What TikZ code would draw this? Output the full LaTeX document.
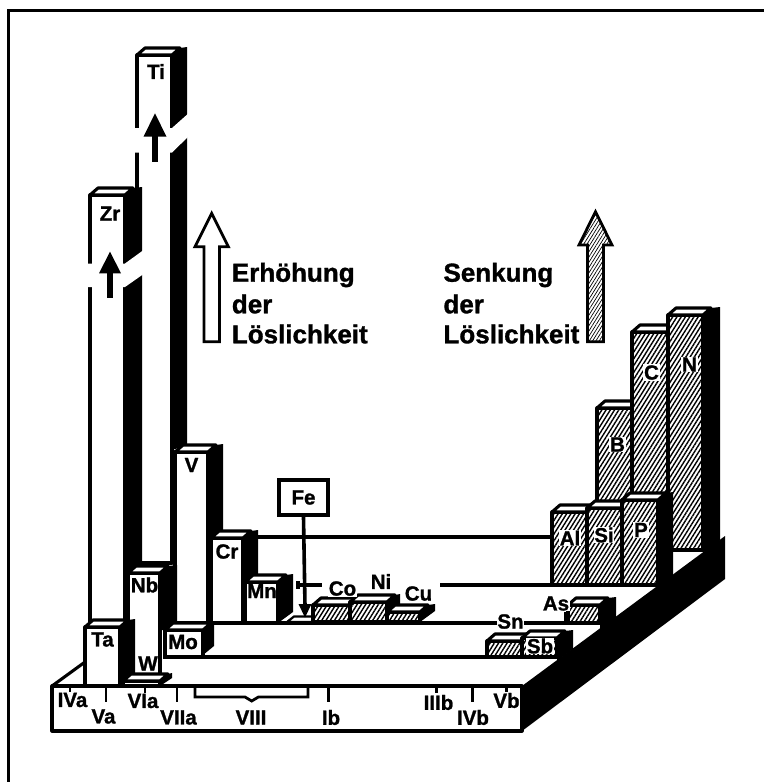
\documentclass[tikz,border=0pt]{standalone}
\usepackage{fontspec}
\setmainfont{Liberation Sans}
\newfontfamily\hvb[FakeBold=1.2]{Liberation Sans Bold}
\usetikzlibrary{patterns.meta}
\newcommand{\BFront}[5]{\path[#5,draw=black,ol] (#1,#3) rectangle (#2,#4);}
\newcommand{\BTop}[3]{\filldraw[fill=white,ol] (#1,#3) -- ({#1+8},{#3-7}) -- ({#2+8},{#3-7}) -- (#2,#3) -- cycle;}
\newcommand{\BSide}[5]{\fill (#1,#2) -- ({#1+8},{#2-7}) -- ({#1+#3},{#2-8}) -- ({#1+#3},#5) -- (#1,#4) -- cycle;}
\tikzset{
  ol/.style={line width=3.1pt,line join=round},
  wf/.style={fill=white},
  hf/.style={preaction={fill=white},pattern={Lines[angle=58,distance=3.6pt,line width=1.4pt]}},
  hfl/.style={preaction={fill=white},pattern={Lines[angle=58,distance=2.8pt,line width=0.7pt]}},
  lab/.style={font=\fontsize{20.5}{22}\selectfont\hvb,inner sep=0.8pt},
  hl/.style={lab,fill=white},
  leg/.style={font=\fontsize{26}{30}\selectfont\hvb,inner sep=0pt,anchor=base west},
  tick/.style={line width=2.8pt}
}
\begin{document}
\begin{tikzpicture}[x=1pt,y=-1pt]
\useasboundingbox (0,0) rectangle (764,782);
\draw[line width=2.5pt] (8.5,782) -- (8.5,10.5) -- (764,10.5);

% base platform
\filldraw[fill=white,ol] (52,686) rectangle (522,731);
\fill (522,686) -- (725,536) -- (725,579) -- (522,731) -- cycle;
\draw[ol] (52,686) -- (85,662);
% row lines
\draw[ol] (163,657) -- (557,657);
\draw[ol] (211,623) -- (568,623);
\draw[ol] (296,585) -- (322,585);
\draw[ol] (298,581) -- (298,589);
\draw[ol] (440,585) -- (552,585);
\draw[ol] (258,537) -- (552,537);
\draw[ol] (566,612) -- (566,623);

% Ti
\BFront{137}{172}{55}{563}{wf}
\BSide{172}{55}{15}{450}{445}
\BTop{137}{172}{55}
\fill[white] (133,128) -- (172,128) -- (190,112) -- (190,135) -- (172,152.5) -- (133,152.5) -- cycle;
\fill (152.3,161.7) rectangle (157.7,135);
\fill (143.5,136.7) -- (155,113.3) -- (166.5,136.7) -- cycle;
% Zr
\BFront{90}{125}{195}{627}{wf}
\BSide{125}{195}{17}{600}{600}
\BTop{90}{125}{195}
\fill[white] (86,263.5) -- (125,263.5) -- (145,249) -- (145,273) -- (125,287) -- (86,287) -- cycle;
\fill (107.3,298.3) rectangle (112.7,272);
\fill (99,273.3) -- (110,251.7) -- (121,273.3) -- cycle;
% V
\BFront{175}{208}{452}{623}{wf}
\BSide{208}{452}{15}{540}{540}
\BTop{175}{208}{452}
% Nb
\BFront{128}{160}{573}{683}{wf}
\BSide{160}{573}{17}{630}{630}
\BTop{128}{160}{573}
% Ta
\BFront{85}{120}{627}{686}{wf}
\BSide{120}{627}{15}{686}{675}
\BTop{85}{120}{627}
% Cr
\BFront{211}{243}{538}{623}{wf}
\BSide{243}{538}{15}{580}{580}
\BTop{211}{243}{538}
% Mn
\BFront{245}{278}{582}{623}{wf}
\BSide{278}{582}{15}{623}{612}
\BTop{245}{278}{582}
% Mo
\BFront{165}{203}{630}{657}{wf}
\BSide{203}{630}{11}{655}{646}
\BTop{165}{203}{630}
% W
\BFront{123}{160}{681}{686}{wf}
\BSide{160}{681}{12}{686}{678}
\BTop{123}{160}{681}

% Fe
\filldraw[fill=white,line width=2.2pt] (287,622) -- (294,616.5) -- (320,616.5) -- (313,622) -- cycle;
\node[draw,line width=4.2pt,minimum width=49pt,minimum height=35pt,inner sep=0pt,font=\fontsize{20.5}{22}\selectfont\hvb] (fe) at (303.5,497.5) {Fe};
\draw[line width=3.6pt] (fe.south) -- (305,606);
\fill (298.5,604) -- (305,617.5) -- (311.5,604) -- cycle;

% Co Ni Cu
\BFront{313}{350}{605}{622}{hf}
\BTop{313}{350}{605}
\BFront{350}{387}{602}{622}{hf}
\BSide{387}{602}{13}{622}{612}
\BTop{350}{387}{602}
\BFront{387}{420}{612}{622}{hf}
\BSide{420}{612}{15}{622}{611}
\BTop{387}{420}{612}
% Sn Sb
\BFront{487}{522}{641}{657}{hf}
\BTop{487}{522}{641}
\BFront{522}{557}{638}{657}{hf}
\BSide{557}{638}{16}{661}{649}
\BTop{522}{557}{638}
% As
\BFront{568}{600}{605}{623}{hf}
\BSide{600}{605}{16}{629.4}{617.5}
\BTop{568}{600}{605}
% B C N
\BFront{597}{632}{408}{552}{hf}
\BTop{597}{632}{408}
\BFront{632}{668}{332}{552}{hf}
\BTop{632}{668}{332}
\BFront{668}{703}{315}{550}{hf}
\BSide{703}{315}{17}{553}{540.5}
\BTop{668}{703}{315}
% Al Si P
\BFront{552}{587}{512}{585}{hf}
\BTop{552}{587}{512}
\BFront{587}{622}{508}{585}{hf}
\BTop{587}{622}{508}
\BFront{622}{658}{500}{585}{hf}
\BSide{658}{500}{15}{586.5}{575.4}
\BTop{622}{658}{500}

% element labels
\node[lab] (lTi) at (156,71.5) {Ti};
\node[lab] (lZr) at (110,213.5) {Zr};
\node[lab] (lV) at (191.5,465) {V};
\node[lab] (lNb) at (144.5,585) {Nb};
\node[lab] (lTa) at (102.5,639.5) {Ta};
\node[lab] (lMo) at (183,642) {Mo};
\node[lab] (lW) at (148,663.5) {W};
\node[lab] (lCr) at (227,551.5) {Cr};
\node[lab] (lMn) at (262,591) {Mn};
\node[hl] (lCo) at (342.5,588.5) {Co};
\node[hl] (lNi) at (381,581.5) {Ni};
\node[hl] (lCu) at (418.5,593.5) {Cu};
\node[hl] (lSn) at (510.5,621.5) {Sn};
\node[hl] (lSb) at (540,646) {Sb};
\node[hl] (lAs) at (556,603.5) {As};
\node[hl] (lAl) at (570,538) {Al};
\node[hl] (lSi) at (604,535) {Si};
\node[hl] (lP) at (641,530) {P};
\node[hl] (lB) at (617.5,444.5) {B};
\node[hl] (lC) at (651.5,372.5) {C};
\node[hl] (lN) at (689.5,364.5) {N};

% group ticks
\draw[tick] (70,687) -- (70,692);
\draw[tick] (106,687) -- (106,702);
\draw[tick] (145,687) -- (145,693);
\draw[tick] (177,687) -- (177,702);
\draw[tick] (195,687) -- (195,697) -- (245,697) -- (251.7,701) -- (258.4,697) -- (308,697) -- (308,687);
\draw[tick] (328.5,687) -- (328.5,702);
\draw[tick] (436.7,687) -- (436.7,693);
\draw[tick] (472.7,687) -- (472.7,702);
\draw[tick] (506.7,687) -- (506.7,692);
% group labels
\node[lab] (gIVa) at (72.5,700) {IVa};
\node[lab] (gVa) at (103.5,716.5) {Va};
\node[lab] (gVIa) at (143,701) {VIa};
\node[lab] (gVIIa) at (178.5,717.5) {VIIa};
\node[lab] (gVIII) at (251,717.5) {VIII};
\node[lab] (gIb) at (331,717.5) {Ib};
\node[lab] (gIIIb) at (438.5,702.5) {IIIb};
\node[lab] (gIVb) at (473,717.5) {IVb};
\node[lab] (gVb) at (506.5,700.5) {Vb};

% legend
\filldraw[fill=white,line width=2.8pt,line join=miter] (204,341.7) -- (204,246.7) -- (195,246.7) -- (211.7,213.3) -- (228.4,246.7) -- (219.4,246.7) -- (219.4,341.7) -- cycle;
\filldraw[hfl,line width=2.8pt,line join=miter] (587.5,341.7) -- (587.5,245) -- (579,245) -- (595.5,211.7) -- (612,245) -- (603.5,245) -- (603.5,341.7) -- cycle;
\node[leg] (t1) at (231.7,281.7) {Erhöhung};
\node[leg] (t2) at (231.7,313.3) {der};
\node[leg] (t3) at (231.7,343.3) {Löslichkeit};
\node[leg] (t4) at (443.3,281.7) {Senkung};
\node[leg] (t5) at (443.3,313.3) {der};
\node[leg] (t6) at (443.3,343.3) {Löslichkeit};
\end{tikzpicture}
\end{document}
